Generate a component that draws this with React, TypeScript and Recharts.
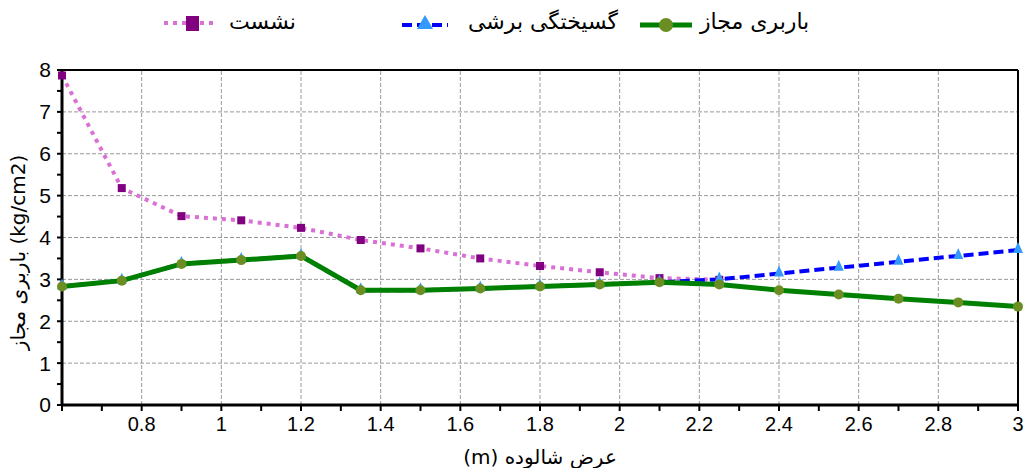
import React from 'react';
import {
  LineChart,
  Line,
  XAxis,
  YAxis,
  ReferenceLine,
} from 'recharts';

const widths = [0.6, 0.75, 0.9, 1.05, 1.2, 1.35, 1.5, 1.65, 1.8, 1.95, 2.1, 2.25, 2.4, 2.55, 2.7, 2.85, 3.0];
const settlement = [7.87, 5.18, 4.51, 4.41, 4.23, 3.94, 3.74, 3.5, 3.32, 3.17, 3.03, 2.99, null, null, null, null, null];
const shearFailure = [2.83, 2.97, 3.37, 3.46, 3.56, 2.74, 2.74, 2.78, 2.83, 2.88, 2.93, 3.0, 3.14, 3.28, 3.42, 3.56, 3.7];
const allowable = [2.83, 2.97, 3.37, 3.46, 3.56, 2.74, 2.74, 2.78, 2.83, 2.88, 2.93, 2.88, 2.74, 2.64, 2.54, 2.45, 2.35];

const xTicks = [0.6, 0.7, 0.8, 0.9, 1.0, 1.1, 1.2, 1.3, 1.4, 1.5, 1.6, 1.7, 1.8, 1.9, 2.0, 2.1, 2.2, 2.3, 2.4, 2.5, 2.6, 2.7, 2.8, 2.9, 3.0];
const xGrid = [0.8, 1.0, 1.2, 1.4, 1.6, 1.8, 2.0, 2.2, 2.4, 2.6, 2.8];
const yGrid = [1, 2, 3, 4, 5, 6, 7];
const yTicks = [0, 0.5, 1, 1.5, 2, 2.5, 3, 3.5, 4, 4.5, 5, 5.5, 6, 6.5, 7, 7.5, 8];

const data = widths.map((w, i) => ({
  w,
  settlement: settlement[i],
  shear: shearFailure[i],
  allowable: allowable[i],
}));

const persianFont = '"DejaVu Sans", "Noto Sans", sans-serif';
const numFont = '"Liberation Sans", Arial, sans-serif';

const xTickLabel = (v: number) => {
  const r = Math.round(v * 10);
  if (r % 2 !== 0 || r === 6) return '';
  return String(r / 10);
};
const yTickLabel = (v: number) => (Number.isInteger(v) ? String(v) : '');

const SquareDot = (props: any) => {
  const { cx, cy, value, index } = props;
  if (value == null || cx == null || cy == null) return <g key={`sq-${index}`} />;
  return <rect key={`sq-${index}`} x={cx - 4} y={cy - 4} width={8} height={8} fill="#800080" />;
};

const TriangleDot = (props: any) => {
  const { cx, cy, value, index } = props;
  if (value == null || cx == null || cy == null) return <g key={`tr-${index}`} />;
  return (
    <path
      key={`tr-${index}`}
      d={`M${cx},${cy - 8} L${cx + 5},${cy + 3} L${cx - 5},${cy + 3} Z`}
      fill="#3399FF"
    />
  );
};

const CircleDot = (props: any) => {
  const { cx, cy, value, index } = props;
  if (value == null || cx == null || cy == null) return <g key={`ci-${index}`} />;
  return <circle key={`ci-${index}`} cx={cx} cy={cy} r={5} fill="#6B8E23" />;
};

const YLabel = (props: any) => {
  const vb = props.viewBox || {};
  const cy = (vb.y ?? 70) + (vb.height ?? 335) / 2 + 15;
  return (
    <text
      x={18}
      y={cy}
      transform={`rotate(-90, 18, ${cy})`}
      textAnchor="middle"
      dominantBaseline="central"
      fill="#000"
      fontSize={20}
      fontFamily={persianFont}
    >
      باربری مجاز (kg/cm2)
    </text>
  );
};

function LegendBar() {
  return (
    <div style={{ position: 'absolute', left: 0, top: 0, width: 1026, height: 44, fontFamily: persianFont, fontSize: 22, color: '#000', lineHeight: '26px' }}>
      <svg style={{ position: 'absolute', left: 162, top: 12 }} width={58} height={22}>
        <line x1={2} y1={11} x2={56} y2={11} stroke="#DA70D6" strokeWidth={4} strokeDasharray="4 5" />
        <rect x={24} y={4} width={13} height={15} fill="#800080" />
      </svg>
      <span style={{ position: 'absolute', left: 229, top: 9, direction: 'rtl' }}>نشست</span>
      <svg style={{ position: 'absolute', left: 400, top: 12 }} width={50} height={22}>
        <line x1={2} y1={13} x2={48} y2={13} stroke="#0000FF" strokeWidth={4} strokeDasharray="10 5" />
        <path d="M25,3 L33,17 L17,17 Z" fill="#3399FF" />
      </svg>
      <span style={{ position: 'absolute', left: 468, top: 9, direction: 'rtl' }}>گسیختگی برشی</span>
      <svg style={{ position: 'absolute', left: 638, top: 12 }} width={56} height={22}>
        <line x1={2} y1={13} x2={54} y2={13} stroke="#008000" strokeWidth={5} />
        <circle cx={28} cy={13} r={7} fill="#6B8E23" />
      </svg>
      <span style={{ position: 'absolute', left: 700, top: 9, direction: 'rtl' }}>باربری مجاز</span>
    </div>
  );
}

export default function App() {
  return (
    <div style={{ position: 'absolute', left: 0, top: 0, width: 1026, height: 468, background: '#fff' }}>
      <LineChart
        width={1026}
        height={468}
        data={data}
        margin={{ top: 70, right: 8, left: 0, bottom: 0 }}
      >
        {xGrid.map((g) => (
          <ReferenceLine key={`vx-${g}`} x={g} stroke="#999" strokeWidth={1} strokeDasharray="4 2" />
        ))}
        {yGrid.map((g) => (
          <ReferenceLine key={`hy-${g}`} y={g} stroke="#999" strokeWidth={1} strokeDasharray="4 2" />
        ))}
        <ReferenceLine y={8} stroke="#000" strokeWidth={2} />
        <ReferenceLine x={3} stroke="#000" strokeWidth={2} />
        <XAxis
          dataKey="w"
          type="number"
          domain={[0.6, 3]}
          ticks={xTicks}
          interval={0}
          tickFormatter={xTickLabel}
          allowDecimals
          height={63}
          axisLine={{ stroke: '#000', strokeWidth: 3 }}
          tickLine={{ stroke: '#000', strokeWidth: 2 }}
          tickSize={6}
          tick={{ fill: '#000', fontSize: 20, fontFamily: numFont, dy: 4 }}
          label={{
            value: 'عرض شالوده (m)',
            position: 'insideBottom',
            offset: 4,
            fill: '#000',
            fontSize: 20,
            fontFamily: persianFont,
            direction: 'rtl',
          }}
        />
        <YAxis
          type="number"
          domain={[0, 8]}
          ticks={yTicks}
          interval={0}
          tickFormatter={yTickLabel}
          width={62}
          axisLine={{ stroke: '#000', strokeWidth: 3 }}
          tickLine={{ stroke: '#000', strokeWidth: 2 }}
          tickSize={5}
          tick={{ fill: '#000', fontSize: 21, fontFamily: numFont, dx: -4 }}
          label={<YLabel />}
        />
        <Line
          dataKey="settlement"
          stroke="#DA70D6"
          strokeWidth={4}
          strokeDasharray="4 5"
          dot={SquareDot}
          activeDot={false}
          isAnimationActive={false}
        />
        <Line
          dataKey="shear"
          stroke="#0000FF"
          strokeWidth={4}
          strokeDasharray="10 5"
          dot={TriangleDot}
          activeDot={false}
          isAnimationActive={false}
        />
        <Line
          dataKey="allowable"
          stroke="#008000"
          strokeWidth={5}
          dot={CircleDot}
          activeDot={false}
          isAnimationActive={false}
        />
      </LineChart>
      <LegendBar />
    </div>
  );
}
